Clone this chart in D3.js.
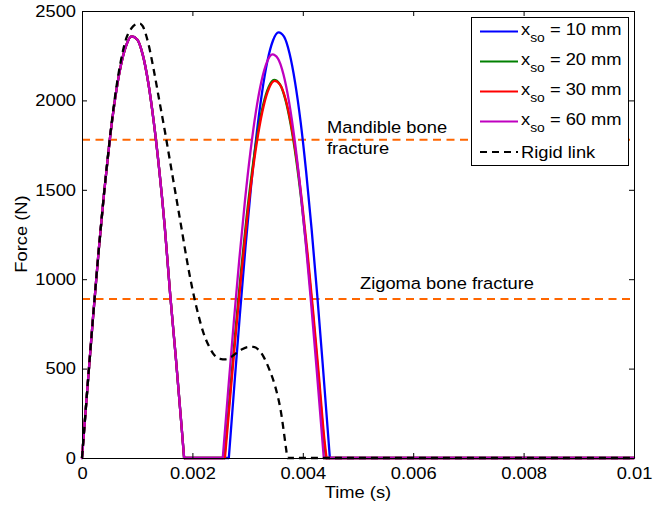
<!DOCTYPE html>
<html><head><meta charset="utf-8">
<script src="https://cdn.jsdelivr.net/npm/d3@7"></script>
<style>body{margin:0;background:#fff}svg{display:block}text{font-family:Arial,"Liberation Sans",sans-serif;fill:#000}</style>
</head><body>
<script>
// ---- data ----
const xTicks = [0, 0.002, 0.004, 0.006, 0.008, 0.01];
const xTickLabels = ["0", "0.002", "0.004", "0.006", "0.008", "0.01"];
const yTicks = [0, 500, 1000, 1500, 2000, 2500];
const yTickLabels = ["0", "500", "1000", "1500", "2000", "2500"];

// first pulse (shared by all spring cases)
const pulse1T = [0,0.0001,0.0002,0.0003,0.0004,0.0005,0.0006,0.0007,0.0008,0.0009,0.001,0.0011,0.0012,0.0013,0.0014,0.0015,0.0016,0.0017,0.0018,0.00185];
const pulse1F = [0,399,786,1151,1482,1771,2010,2190,2307,2358,2341,2256,2100,1880,1610,1290,905,560,190,0];

const t10 = [0.00266,0.00276,0.00286,0.00296,0.00306,0.00316,0.00326,0.00336,0.00346,0.00356,0.00366,0.00376,0.00386,0.00396,0.00406,0.00416,0.00426,0.00436,0.00446,0.00449];
const f10 = [0,407,801,1173,1510,1802,2041,2221,2335,2380,2356,2262,2101,1881,1603,1279,916,527,123,0];
const t20 = [0.00258,0.00268,0.00278,0.00288,0.00298,0.00308,0.00318,0.00328,0.00338,0.00348,0.00358,0.00368,0.00378,0.00388,0.00398,0.00408,0.00418,0.00428,0.00438,0.00442];
const f20 = [0,361,712,1042,1341,1601,1813,1973,2074,2114,2092,2009,1866,1671,1424,1136,813,468,109,0];
const t30 = [0.00259,0.00269,0.00279,0.00289,0.00299,0.00309,0.00319,0.00329,0.00339,0.00349,0.00359,0.00369,0.00379,0.00389,0.00399,0.00409,0.00419,0.00429,0.00439,0.00443];
const f30 = [0,360,710,1039,1338,1597,1809,1968,2069,2109,2087,2005,1862,1667,1421,1133,811,467,109,0];
const t60 = [0.00255,0.00265,0.00275,0.00285,0.00295,0.00305,0.00315,0.00325,0.00335,0.00345,0.00355,0.00365,0.00375,0.00385,0.00395,0.00405,0.00415,0.00425,0.00435,0.00438];
const f60 = [0,386,760,1112,1432,1709,1936,2106,2214,2257,2234,2145,1993,1784,1520,1213,868,500,116,0];

const rigidT = [0,0.0001,0.0002,0.0003,0.0004,0.0005,0.0006,0.0007,0.0008,0.0009,0.001,0.00105,0.0011,0.0012,0.0013,0.0014,0.0015,0.0016,0.0017,0.0018,0.0019,0.002,0.0021,0.0022,0.0023,0.0024,0.0025,0.0026,0.0027,0.0028,0.0029,0.003,0.0031,0.0032,0.0033,0.0034,0.0035,0.0036,0.0037,0.00372,0.01];
const rigidF = [0,399,786,1151,1482,1775,2025,2215,2345,2405,2428,2430,2415,2320,2170,2000,1830,1650,1470,1290,1107,945,810,700,625,575,555,552,565,588,608,620,622,605,560,490,400,265,45,0,0];

const fractureLevels = [1780, 889];
const seriesNames = ["10 mm", "20 mm", "30 mm", "60 mm"];
const seriesColors = ["#0000ff", "#008000", "#ff0000", "#bf00bf"];

// ---- chart ----
const W = 653, H = 507, SX = 1.11, FS = 16.5;
const svg = d3.select("body").append("svg").attr("width", W).attr("height", H);
const x = d3.scaleLinear().domain([0, 0.01]).range([82, 634]);
const y = d3.scaleLinear().domain([0, 2500]).range([458, 11]);

function stretch(sel) {
  sel.each(function () {
    const xx = +(this.getAttribute("x") || 0);
    this.setAttribute("x", xx / SX);
    const tr = this.getAttribute("transform");
    this.setAttribute("transform", (tr ? tr + " " : "") + `scale(${SX},1)`);
  });
}

const line = d3.line().x(d => x(d[0])).y(d => y(d[1]));
const smooth = d3.line().x(d => x(d[0])).y(d => y(d[1])).curve(d3.curveMonotoneX);

// fracture lines
svg.selectAll(".frac").data(fractureLevels).enter().append("line")
  .attr("x1", x(0)).attr("x2", x(0.01))
  .attr("y1", d => y(d)).attr("y2", d => y(d))
  .attr("stroke", "#ff6600").attr("stroke-width", 2).attr("stroke-dasharray", "8,5.5");

stretch(svg.append("text").attr("x", 327).attr("y", 133).attr("font-size", FS).text("Mandible bone"));
stretch(svg.append("text").attr("x", 327).attr("y", 154).attr("font-size", FS).text("fracture"));
stretch(svg.append("text").attr("x", 360).attr("y", 289).attr("font-size", FS).text("Zigoma bone fracture"));

// series: pulses drawn smooth, zero intervals straight
const p1 = pulse1T.map((t, i) => [t, pulse1F[i]]);
[[t10, f10], [t20, f20], [t30, f30], [t60, f60]].forEach(([tt, ff], i) => {
  const p2 = tt.map((t, j) => [t, ff[j]]);
  const g = svg.append("g").attr("fill", "none").attr("stroke", seriesColors[i])
    .attr("stroke-width", 2.3).attr("stroke-linejoin", "round").attr("stroke-linecap", "round");
  g.append("path").datum(p1).attr("d", smooth);
  g.append("path").datum([p1[p1.length - 1], p2[0]]).attr("d", line);
  g.append("path").datum(p2).attr("d", smooth);
  g.append("path").datum([p2[p2.length - 1], [0.01, 0]]).attr("d", line);
});
const rigid = rigidT.map((t, i) => [t, rigidF[i]]);
svg.append("path").datum(rigid).attr("d", smooth).attr("fill", "none")
  .attr("stroke", "#000").attr("stroke-width", 2.3).attr("stroke-dasharray", "7,5");

// axes box
const gB = svg.append("g").attr("transform", `translate(0,${y(0)})`)
  .call(d3.axisBottom(x).tickValues(xTicks).tickFormat((d, i) => xTickLabels[i]).tickSizeInner(-5).tickSizeOuter(0).tickPadding(9));
const gT = svg.append("g").attr("transform", `translate(0,${y(2500)})`)
  .call(d3.axisTop(x).tickValues(xTicks).tickFormat("").tickSizeInner(-5).tickSizeOuter(0));
const gL = svg.append("g").attr("transform", `translate(${x(0)},0)`)
  .call(d3.axisLeft(y).tickValues(yTicks).tickFormat((d, i) => yTickLabels[i]).tickSizeInner(-5).tickSizeOuter(0).tickPadding(6));
const gR = svg.append("g").attr("transform", `translate(${x(0.01)},0)`)
  .call(d3.axisRight(y).tickValues(yTicks).tickFormat("").tickSizeInner(-5).tickSizeOuter(0));
[gB, gT, gL, gR].forEach(g => {
  g.select(".domain").attr("stroke", "#000").attr("stroke-width", 1);
  g.selectAll(".tick line").attr("stroke", "#000");
  g.selectAll("text").attr("font-size", FS).attr("font-family", "Arial, 'Liberation Sans', sans-serif").attr("fill", "#000");
});
stretch(gB.selectAll("text"));
stretch(gL.selectAll("text"));

stretch(svg.append("text").attr("x", 358).attr("y", 498).attr("text-anchor", "middle").attr("font-size", FS).text("Time (s)"));
svg.append("text").attr("transform", `translate(27,234) rotate(-90) scale(${SX},1)`).attr("text-anchor", "middle").attr("font-size", FS).text("Force (N)");

// legend
const lg = svg.append("g");
lg.append("rect").attr("x", 471.5).attr("y", 17.5).attr("width", 157).attr("height", 148)
  .attr("fill", "#fff").attr("stroke", "#000").attr("stroke-width", 1);
const rowY = [31.5, 61.5, 91.5, 121.5, 152];
seriesNames.forEach((n, i) => {
  lg.append("line").attr("x1", 480).attr("x2", 518).attr("y1", rowY[i]).attr("y2", rowY[i])
    .attr("stroke", seriesColors[i]).attr("stroke-width", 2);
  const t = lg.append("text").attr("x", 521).attr("y", rowY[i] + 4).attr("font-size", FS);
  t.append("tspan").text("x");
  t.append("tspan").attr("dy", 7).attr("font-size", 12.5).text("so");
  t.append("tspan").attr("dy", -7).text(" = " + n);
  stretch(t);
});
lg.append("line").attr("x1", 480).attr("x2", 518).attr("y1", rowY[4]).attr("y2", rowY[4])
  .attr("stroke", "#000").attr("stroke-width", 2).attr("stroke-dasharray", "7,5");
stretch(lg.append("text").attr("x", 521).attr("y", rowY[4] + 6).attr("font-size", FS).text("Rigid link"));
</script>
</body></html>
